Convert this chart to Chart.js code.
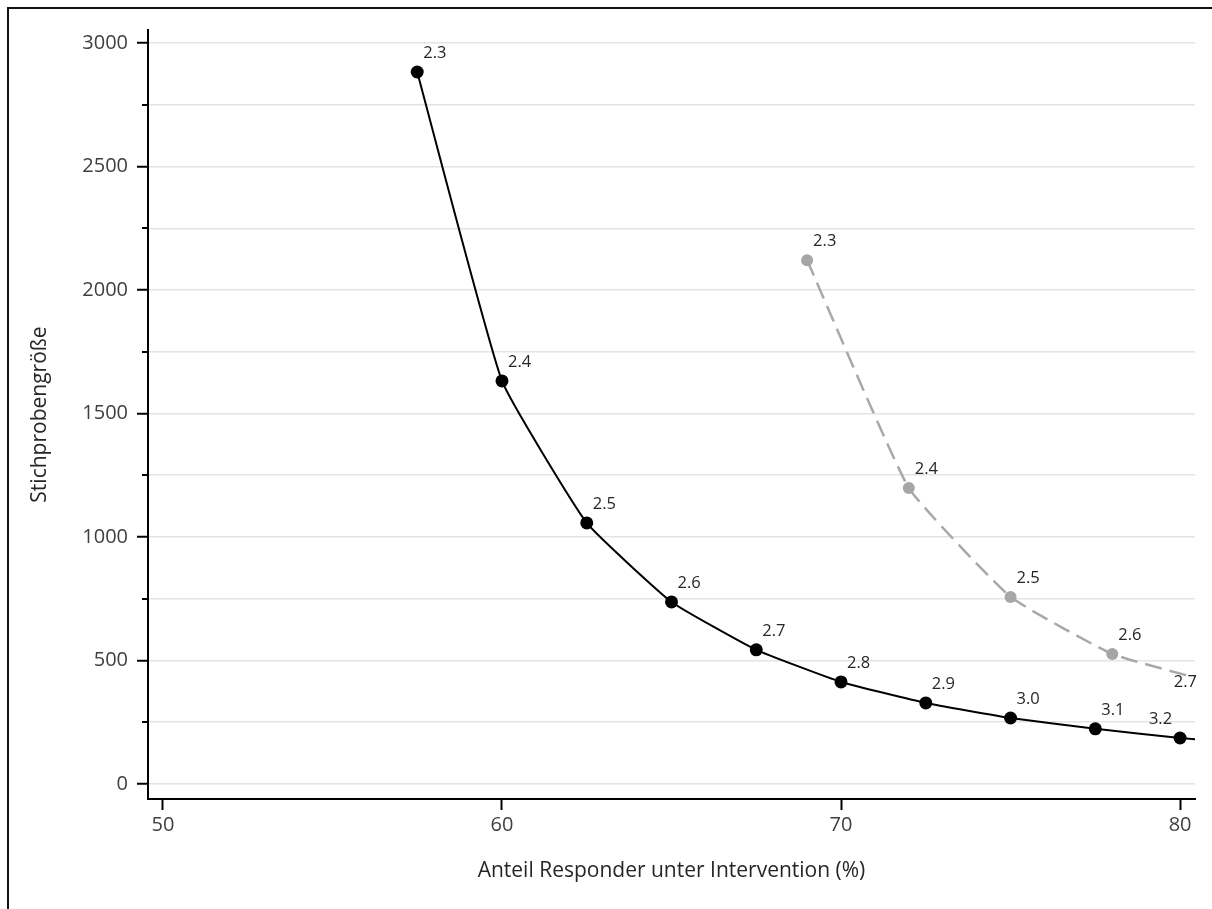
<!DOCTYPE html>
<html>
<head>
<meta charset="utf-8">
<script src="https://cdn.jsdelivr.net/npm/chart.js@4.4.1/dist/chart.umd.min.js"></script>
<style>
  html, body { margin: 0; padding: 0; background: #fff; }
  #wrap { position: relative; width: 1212px; height: 909px; }
</style>
</head>
<body>
<div id="wrap"><canvas id="chart" width="1212" height="909"></canvas></div>
<script>
// Daten
const xBlack = [57.5, 60, 62.5, 65, 67.5, 70, 72.5, 75, 77.5, 80, 82.5];
const yBlack = [2883, 1632, 1057, 737, 543, 413, 328, 267, 223, 186, 158];
const lblBlack = ['2.3', '2.4', '2.5', '2.6', '2.7', '2.8', '2.9', '3.0', '3.1', '3.2'];

const xGrey = [69, 72, 75, 78, 81];
const yGrey = [2121, 1198, 757, 526, 410];
const lblGrey = ['2.3', '2.4', '2.5', '2.6', '2.7'];

const xTicks = [50, 60, 70, 80];
const yTicks = [0, 250, 500, 750, 1000, 1250, 1500, 1750, 2000, 2250, 2500, 2750, 3000];

const FONT = "'Open Sans', 'Noto Sans', sans-serif";
Chart.defaults.font.family = FONT;
Chart.defaults.color = '#404040';

// Beschriftung der Punkte (oben rechts, am Rand nach links versetzt)
const pointLabels = {
  id: 'pointLabels',
  afterDatasetsDraw(chart) {
    const { ctx, chartArea: a } = chart;
    ctx.save();
    ctx.beginPath();
    ctx.rect(a.left, 0, a.right - a.left + 1, chart.height);
    ctx.clip();
    ctx.font = '16.5px ' + FONT;
    ctx.fillStyle = '#262626';
    ctx.textBaseline = 'middle';
    ctx.textAlign = 'left';
    chart.data.datasets.forEach((ds, i) => {
      chart.getDatasetMeta(i).data.forEach((pt, j) => {
        const txt = ds.pointLabels[j];
        if (!txt) return;
        const w = ctx.measureText(txt).width;
        let x = pt.x + 6, y = pt.y - 19;
        if (pt.x > a.right) { x = a.right - w + 2; y = pt.y; }
        else if (x + w > a.right) { x = pt.x - 8 - w; }
        ctx.fillText(txt, x, y);
      });
    });
    ctx.restore();
  }
};

// Rahmen + kurze Zwischenstriche an der y-Achse
const frameAndMinor = {
  id: 'frameAndMinor',
  afterDraw(chart) {
    const { ctx, chartArea: a, scales } = chart;
    ctx.save();
    ctx.strokeStyle = '#111';
    ctx.lineWidth = 2;
    ctx.beginPath();
    ctx.moveTo(8, chart.height); ctx.lineTo(8, 8); ctx.lineTo(chart.width, 8);
    ctx.stroke();
    ctx.strokeStyle = '#000';
    yTicks.filter(v => v % 500 !== 0).forEach(v => {
      const y = Math.round(scales.y.getPixelForValue(v));
      ctx.beginPath();
      ctx.moveTo(a.left - 6, y); ctx.lineTo(a.left, y);
      ctx.stroke();
    });
    ctx.restore();
  }
};

new Chart(document.getElementById('chart').getContext('2d'), {
  type: 'line',
  data: {
    datasets: [
      {
        data: xBlack.map((x, i) => ({ x, y: yBlack[i] })),
        pointLabels: lblBlack,
        borderColor: '#000',
        backgroundColor: '#000',
        borderWidth: 2,
        pointRadius: 6.5,
        pointBorderWidth: 0,
        pointBackgroundColor: '#000',
        tension: 0.12,
        fill: false
      },
      {
        data: xGrey.map((x, i) => ({ x, y: yGrey[i] })),
        pointLabels: lblGrey,
        borderColor: '#a9a9a9',
        backgroundColor: '#a6a6a6',
        borderWidth: 2.5,
        borderDash: [17, 8],
        pointRadius: 6,
        pointBorderWidth: 0,
        pointBackgroundColor: '#a6a6a6',
        tension: 0.12,
        fill: false
      }
    ]
  },
  options: {
    responsive: false,
    animation: false,
    layout: { padding: { top: 30, right: 17, left: 0, bottom: 0 } },
    plugins: { legend: { display: false }, tooltip: { enabled: false } },
    scales: {
      x: {
        type: 'linear',
        min: 49.56,
        max: 80.44,
        afterBuildTicks: s => { s.ticks = xTicks.map(v => ({ value: v })); },
        afterFit: s => { s.height = 110; },
        border: { color: '#000', width: 2 },
        grid: { drawOnChartArea: false, tickLength: 11, tickWidth: 2, tickColor: '#000' },
        ticks: { font: { size: 20 }, padding: 3, color: '#404040', maxRotation: 0 },
        title: {
          display: true,
          text: 'Anteil Responder unter Intervention (%)',
          font: { size: 21 },
          color: '#262626',
          padding: { top: 0, bottom: 25 }
        }
      },
      y: {
        min: -61,
        max: 3053,
        afterBuildTicks: s => { s.ticks = yTicks.map(v => ({ value: v })); },
        afterFit: s => { s.width = 148; },
        border: { color: '#000', width: 2 },
        grid: {
          color: '#e4e4e4',
          lineWidth: 1.5,
          tickLength: 11,
          tickWidth: 2,
          tickColor: c => (c.tick && c.tick.value % 500 === 0) ? '#000' : 'rgba(0,0,0,0)'
        },
        ticks: {
          font: { size: 20 },
          padding: 9,
          color: '#404040',
          callback: v => (v % 500 === 0 ? String(v) : '')
        },
        title: {
          display: true,
          text: 'Stichprobengröße',
          font: { size: 21 },
          color: '#262626',
          padding: { top: 27, bottom: 0 }
        }
      }
    }
  },
  plugins: [pointLabels, frameAndMinor]
});
</script>
</body>
</html>
